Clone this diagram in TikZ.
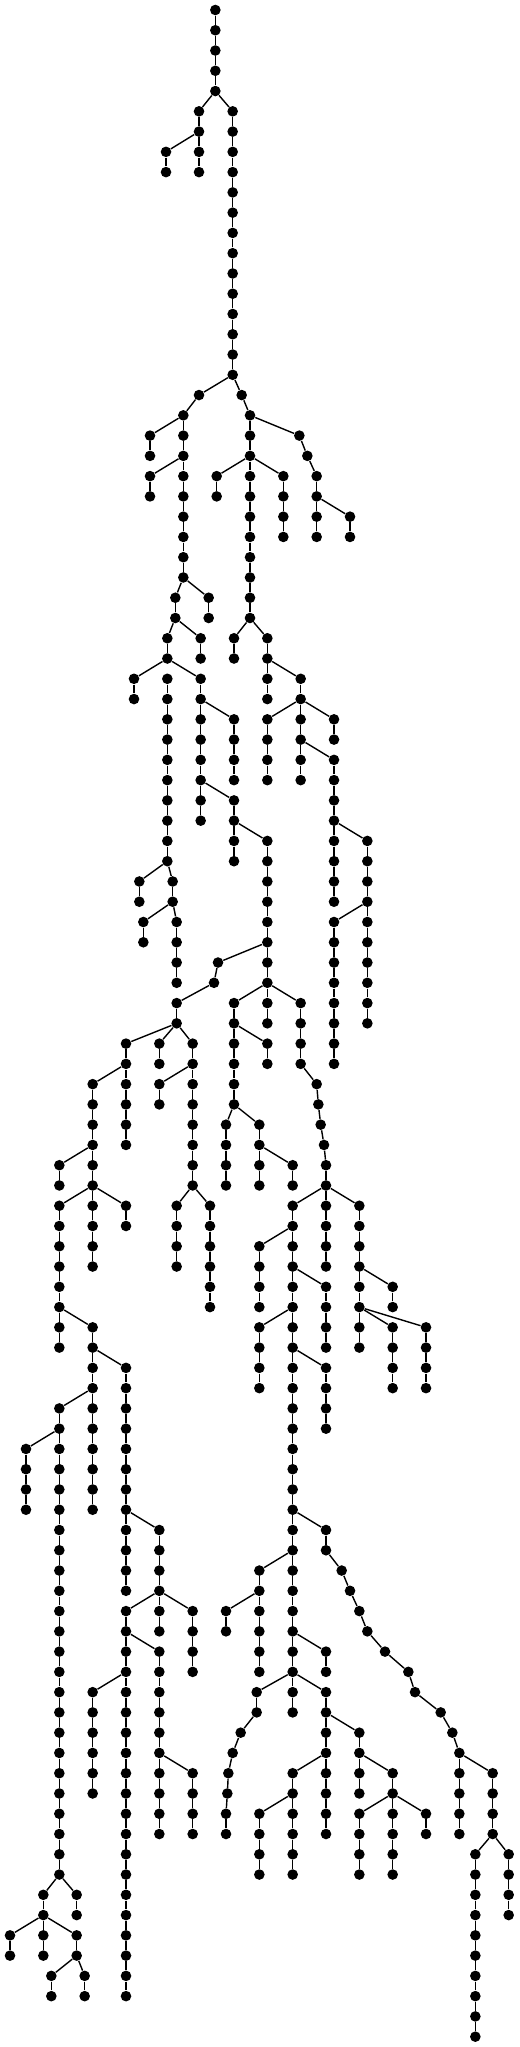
\documentclass[tikz,border=0pt]{standalone}
\usepackage{tikz}

% one column of dots, column #1, from level #2 down to level #3
\newcommand\vchain[3]{%
  \foreach \lv in {#2,...,#3}{\node[vtx] (v\lv-#1) at (#1,\lv) {};}%
  \ifnum#2<#3\relax
    \pgfmathtruncatemacro\nxt{#2+1}%
    \foreach \lv [evaluate=\lv as \pv using int(\lv-1)] in {\nxt,...,#3}{\draw[link] (v\pv-#1) -- (v\lv-#1);}%
  \fi}

\begin{document}
\begin{tikzpicture}[x=0.16667pt,y=-10.1333pt]
\tikzstyle{vtx}=[circle,fill=black,inner sep=0pt,minimum size=5.3pt]
\tikzstyle{link}=[black,line width=0.7pt]
\useasboundingbox (0,-0.4934) rectangle (1557,100.51);
% columns of the tree
\foreach \c/\a/\b in {646/0/4,597/5/8,498/7/8,698/5/18,597/19/19,550/20/28,450/21/22,450/23/24,
  725/19/19,750/20/30,898/21/21,922/22/22,950/23/26,1050/25/26,650/23/24,850/23/26,
  526/29/30,626/29/30,502/31/32,602/31/32,402/33/34,502/33/42,602/33/40,702/35/38,702/39/42,
  802/41/50,702/31/32,802/31/34,902/33/38,802/35/38,1002/35/36,1002/37/44,1102/41/50,1002/45/52,
  418/43/44,518/43/44,430/45/46,530/45/48,654/47/47,642/48/48,530/49/50,702/49/54,902/49/52,
  802/51/52,950/53/53,955/54/54,962/55/55,972/56/56,978/57/58,378/51/56,478/51/52,578/51/58,
  278/53/58,478/53/54,178/57/58,678/55/58,778/55/58,878/57/58,
  178/59/66,278/59/62,378/59/60,530/59/62,630/59/64,878/59/84,978/59/62,1078/59/66,
  778/61/64,978/63/66,1178/63/64,778/65/68,1178/65/68,1278/65/68,278/65/74,378/67/78,
  978/67/70,178/69/92,78/71/74,478/75/78,978/75/76,778/77/82,978/81/82,
  1025/77/77,1050/78/78,1078/79/79,1102/80/80,1155/81/81,1225/82/82,1245/83/83,1322/84/84,
  1357/85/85,1378/86/90,1478/87/90,1426/91/100,1526/91/94,
  378/79/98,478/79/80,578/79/82,478/81/90,578/87/90,278/83/88,678/79/80,
  770/83/84,722/85/85,698/86/86,685/87/87,682/88/88,678/89/90,
  978/83/90,1078/85/88,1178/87/92,1078/89/92,1278/89/90,878/87/92,778/89/92,
  130/93/94,230/93/94,30/95/96,130/95/96,230/95/96,154/97/98,254/97/98}
  \vchain{\c}{\a}{\b};
% branches
\foreach \a/\b in {4-646/5-597,4-646/5-698,6-597/7-498,18-698/19-597,18-698/19-725,
  19-597/20-550,20-550/21-450,22-550/23-450,19-725/20-750,20-750/21-898,21-898/22-922,
  22-922/23-950,24-950/25-1050,22-750/23-650,22-750/23-850,28-550/29-526,28-550/29-626,
  30-526/31-502,30-526/31-602,32-502/33-402,32-502/33-602,34-602/35-702,38-602/39-702,
  40-702/41-802,30-750/31-702,30-750/31-802,32-802/33-902,34-902/35-802,34-902/35-1002,
  36-902/37-1002,40-1002/41-1102,44-1102/45-1002,42-502/43-418,42-502/43-518,
  44-518/45-430,44-518/45-530,46-802/47-654,47-654/48-642,48-642/49-530,48-802/49-702,
  48-802/49-902,50-702/51-802,52-902/53-950,53-950/54-955,54-955/55-962,55-962/56-972,
  56-972/57-978,50-530/51-378,50-530/51-478,50-530/51-578,52-378/53-278,52-578/53-478,
  56-278/57-178,54-702/55-678,54-702/55-778,56-778/57-878,
  58-278/59-178,58-278/59-278,58-278/59-378,58-578/59-530,58-578/59-630,
  58-978/59-878,58-978/59-978,58-978/59-1078,60-878/61-778,62-878/63-978,62-1078/63-1178,
  64-878/65-778,64-1078/65-1178,64-1078/65-1278,64-178/65-278,66-278/67-378,66-878/67-978,
  68-278/69-178,70-178/71-78,74-378/75-478,74-878/75-978,
  76-978/77-1025,77-1025/78-1050,78-1050/79-1078,79-1078/80-1102,80-1102/81-1155,
  81-1155/82-1225,82-1225/83-1245,83-1245/84-1322,84-1322/85-1357,85-1357/86-1378,
  86-1378/87-1478,76-878/77-778,78-778/79-678,80-878/81-978,82-878/83-770,82-878/83-978,
  84-770/85-722,85-722/86-698,86-698/87-685,87-685/88-682,88-682/89-678,
  78-478/79-378,78-478/79-478,78-478/79-578,80-378/81-478,82-378/83-278,86-478/87-578,
  84-978/85-1078,86-978/87-878,86-1078/87-1178,88-1178/89-1078,88-1178/89-1278,88-878/89-778,
  90-1478/91-1426,90-1478/91-1526,92-178/93-130,92-178/93-230,
  94-130/95-30,94-130/95-130,94-130/95-230,96-230/97-154,96-230/97-254}
  \draw[link] (v\a) -- (v\b);
\end{tikzpicture}
\end{document}
